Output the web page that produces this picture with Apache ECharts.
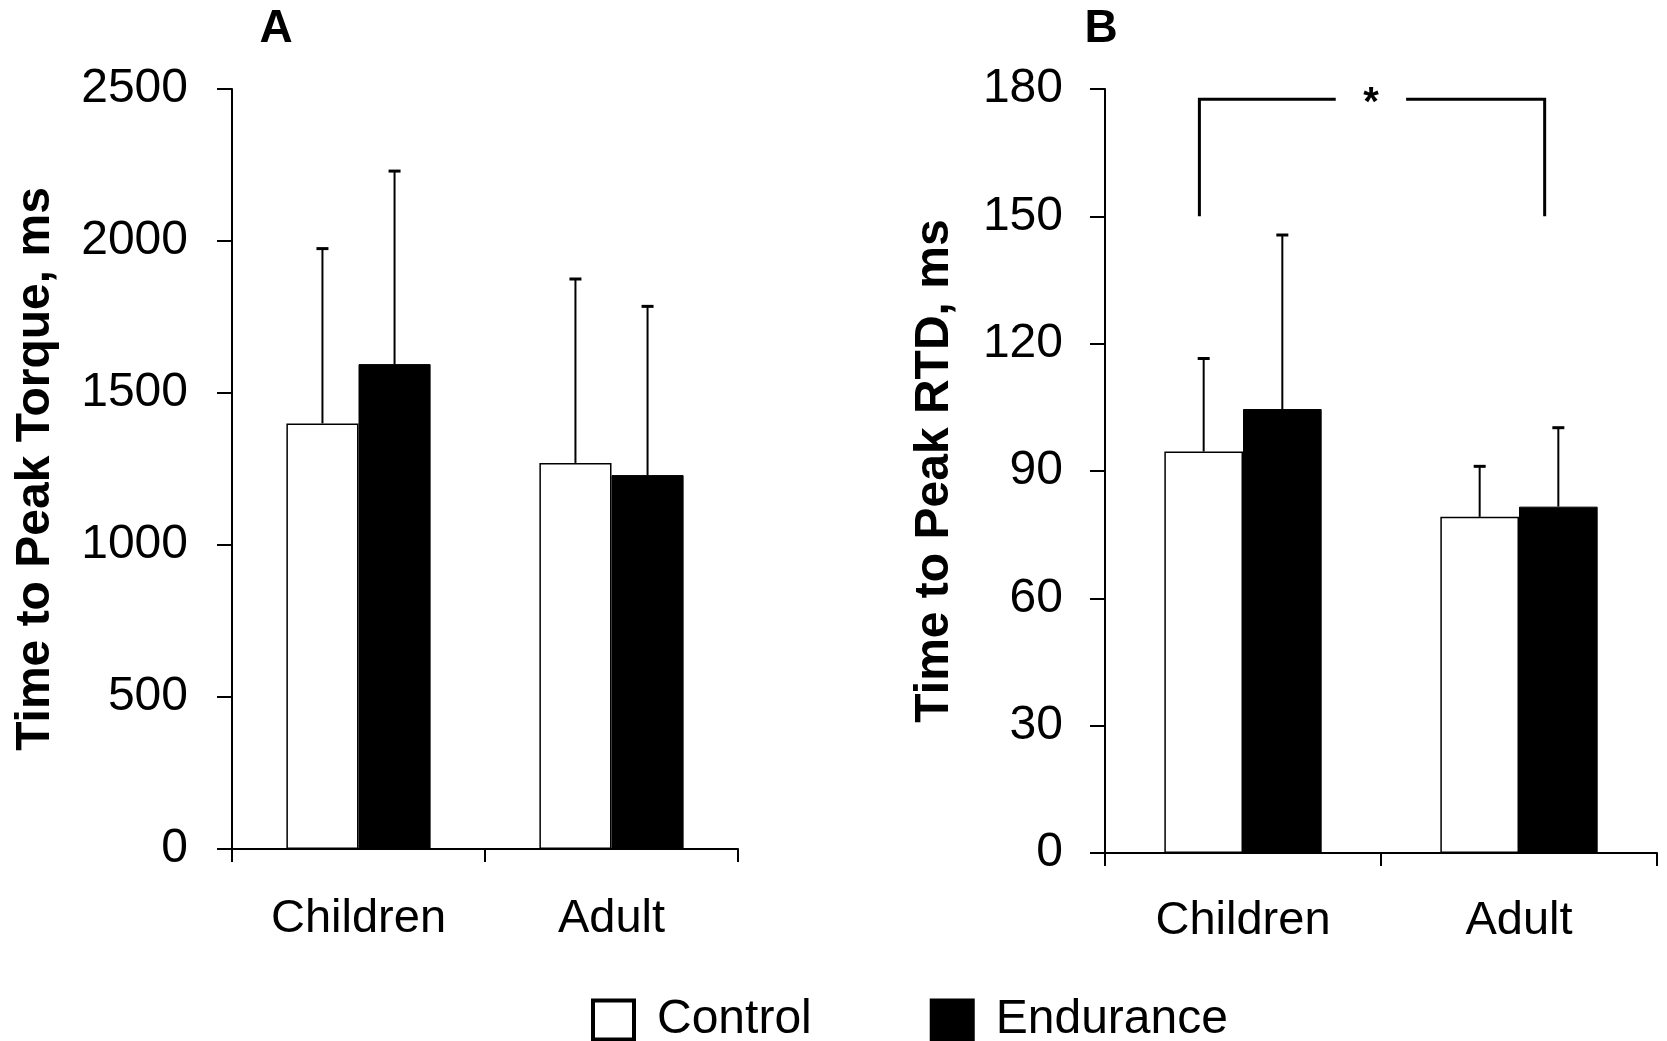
<!DOCTYPE html>
<html>
<head>
<meta charset="utf-8">
<title>Time to Peak Torque / RTD</title>
<script src="https://cdn.jsdelivr.net/npm/echarts@6/dist/echarts.min.js"></script>
<style>
    html, body { margin: 0; padding: 0; background: #fff; }
    #chart { width: 1667px; height: 1041px; }
</style>
</head>
<body>
<div id="chart"></div>
<script>
    // 数据
    const categories = ['Children', 'Adult'];
    const seriesNames = ['Control', 'Endurance'];

    // A: time to peak torque (mean, and top of error bar)
    const torqueControl = [1400, 1270];
    const torqueControlTop = [1975, 1875];
    const torqueEndurance = [1595, 1230];
    const torqueEnduranceTop = [2230, 1785];
    const torqueTicks = [0, 500, 1000, 1500, 2000, 2500];

    // B: time to peak RTD
    const rtdControl = [94.6, 79.2];
    const rtdControlTop = [116.5, 91.1];
    const rtdEndurance = [104.6, 81.6];
    const rtdEnduranceTop = [145.6, 100.2];
    const rtdTicks = [0, 30, 60, 90, 120, 150, 180];

    // significance bracket in B (x in category units 0..2)
    const sigBracketX = [0.342, 1.593];
    const sigBracketY = [150, 177.6];
    const sigGapX = [0.836, 1.091];
    const sigLabel = '*';

    const FONT = "'Liberation Sans', Arial, sans-serif";
    const CAT_GAP = 0.43;

    const chart = echarts.init(document.getElementById('chart'));

    function stepOf(ticks) {
        return ticks[1] - ticks[0];
    }

    // 误差线 side: -1 左侧柱, 1 右侧柱
    function errorRender(side) {
        return function (params, api) {
            const cat = api.value(0);
            const base = api.coord([cat, api.value(1)]);
            const hi = api.coord([cat, api.value(2)]);
            const catW = api.size([1, 0])[0];
            const w = catW * (1 - CAT_GAP) / 2;
            const x = base[0] + side * w / 2;
            return {
                type: 'group',
                children: [
                    { type: 'line', shape: { x1: x, y1: base[1], x2: x, y2: hi[1] }, style: { stroke: '#000', lineWidth: 2 } },
                    { type: 'line', shape: { x1: x - 6, y1: hi[1], x2: x + 6, y2: hi[1] }, style: { stroke: '#000', lineWidth: 3 } }
                ]
            };
        };
    }

    function errData(means, tops) {
        return means.map((m, i) => [i, m, tops[i]]);
    }

    function yAxisOf(gridIndex, ticks, name, nameGap, labelMargin) {
        return {
            type: 'value',
            gridIndex: gridIndex,
            min: ticks[0],
            max: ticks[ticks.length - 1],
            interval: stepOf(ticks),
            name: name,
            nameLocation: 'middle',
            nameGap: nameGap,
            nameTextStyle: { fontFamily: FONT, fontSize: 48, fontWeight: 'bold', color: '#000' },
            axisLine: { show: true, lineStyle: { color: '#000', width: 2 } },
            axisTick: { show: true, length: 15, lineStyle: { color: '#000', width: 2 } },
            axisLabel: {
                fontFamily: FONT, fontSize: 48, color: '#000', margin: labelMargin,
                formatter: v => String(v)
            },
            splitLine: { show: false }
        };
    }

    function xAxisOf(gridIndex, labelMargin) {
        return {
            type: 'category',
            gridIndex: gridIndex,
            data: categories,
            axisLine: { lineStyle: { color: '#000', width: 2 } },
            axisTick: { show: true, length: 13, lineStyle: { color: '#000', width: 2 } },
            axisLabel: { fontFamily: FONT, fontSize: 47, color: '#000', margin: labelMargin }
        };
    }

    function barSeries(name, idx, values) {
        const isControl = name === 'Control';
        return {
            name: name,
            type: 'bar',
            xAxisIndex: idx,
            yAxisIndex: idx,
            data: values,
            barGap: '0%',
            barCategoryGap: (CAT_GAP * 100) + '%',
            itemStyle: {
                color: isControl ? '#fff' : '#000',
                borderColor: '#000',
                borderWidth: isControl ? 1.5 : 1
            }
        };
    }

    const option = {
        backgroundColor: '#fff',
        animation: false,
        textStyle: { fontFamily: FONT },
        grid: [
            { left: 232, top: 89, width: 506, height: 760 },
            { left: 1105, top: 89, width: 552, height: 764 }
        ],
        xAxis: [
            xAxisOf(0, 47),
            xAxisOf(1, 45),
            // hidden continuous axis for the bracket
            { type: 'value', gridIndex: 1, min: 0, max: 2, show: false }
        ],
        yAxis: [
            yAxisOf(0, torqueTicks, 'Time to Peak Torque, ms', 172, 44),
            yAxisOf(1, rtdTicks, 'Time to Peak RTD, ms', 146, 42)
        ],
        legend: {
            data: seriesNames,
            left: 586,
            top: 991,
            icon: 'rect',
            itemWidth: 41,
            itemHeight: 39,
            itemGap: 118,
            itemStyle: { borderColor: '#000', borderWidth: 4 },
            textStyle: { fontFamily: FONT, fontSize: 48, color: '#000', padding: [0, 0, 0, 18] },
            selectedMode: false
        },
        graphic: [
            { type: 'text', x: 276, y: 29, style: { text: 'A', font: 'bold 46px ' + FONT, fill: '#000', align: 'center', verticalAlign: 'middle' } },
            { type: 'text', x: 1101, y: 29, style: { text: 'B', font: 'bold 46px ' + FONT, fill: '#000', align: 'center', verticalAlign: 'middle' } }
        ],
        series: [
            barSeries('Control', 0, torqueControl),
            barSeries('Endurance', 0, torqueEndurance),
            { name: 'errA1', type: 'custom', xAxisIndex: 0, yAxisIndex: 0, z: 5, renderItem: errorRender(-1), data: errData(torqueControl, torqueControlTop) },
            { name: 'errA2', type: 'custom', xAxisIndex: 0, yAxisIndex: 0, z: 5, renderItem: errorRender(1), data: errData(torqueEndurance, torqueEnduranceTop) },

            barSeries('Control', 1, rtdControl),
            barSeries('Endurance', 1, rtdEndurance),
            { name: 'errB1', type: 'custom', xAxisIndex: 1, yAxisIndex: 1, z: 5, renderItem: errorRender(-1), data: errData(rtdControl, rtdControlTop) },
            { name: 'errB2', type: 'custom', xAxisIndex: 1, yAxisIndex: 1, z: 5, renderItem: errorRender(1), data: errData(rtdEndurance, rtdEnduranceTop) },

            // 显著性标记
            {
                name: 'sig',
                type: 'custom',
                xAxisIndex: 2,
                yAxisIndex: 1,
                z: 5,
                data: [[sigBracketX[0], sigBracketY[0]]],
                renderItem: function (params, api) {
                    const bl = api.coord([sigBracketX[0], sigBracketY[0]]);
                    const tl = api.coord([sigBracketX[0], sigBracketY[1]]);
                    const br = api.coord([sigBracketX[1], sigBracketY[0]]);
                    const tr = api.coord([sigBracketX[1], sigBracketY[1]]);
                    const gl = api.coord([sigGapX[0], sigBracketY[1]]);
                    const gr = api.coord([sigGapX[1], sigBracketY[1]]);
                    const st = { stroke: '#000', lineWidth: 3, fill: 'none' };
                    return {
                        type: 'group',
                        children: [
                            { type: 'polyline', shape: { points: [bl, tl, gl] }, style: st },
                            { type: 'polyline', shape: { points: [gr, tr, br] }, style: st },
                            {
                                type: 'text',
                                x: (gl[0] + gr[0]) / 2,
                                y: tl[1] + 5,
                                style: { text: sigLabel, font: 'bold 40px ' + FONT, fill: '#000', align: 'center', verticalAlign: 'middle' }
                            }
                        ]
                    };
                }
            }
        ]
    };

    chart.setOption(option);
    window.addEventListener('resize', () => chart.resize());
</script>
</body>
</html>
